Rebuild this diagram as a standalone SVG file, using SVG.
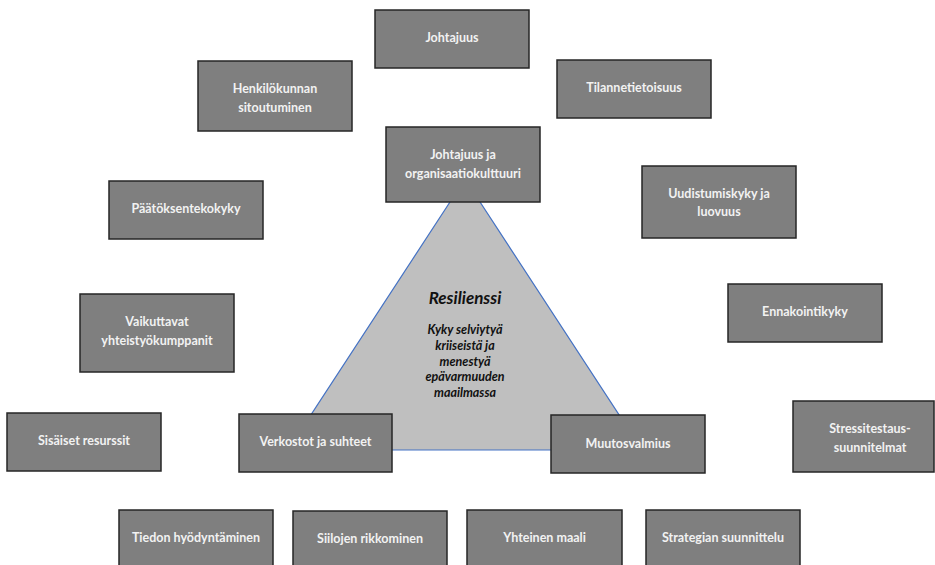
<svg xmlns="http://www.w3.org/2000/svg" width="935" height="565" viewBox="0 0 935 565">
  <style>
    .box rect { fill: #7f7f7f; stroke: #262626; stroke-width: 1.5; }
    .box text { fill: #f2f2f2; font-family: Lato, "Liberation Sans", sans-serif; font-weight: bold; font-size: 12.5px; text-anchor: middle; }
    .tri { fill: #bfbfbf; stroke: #4472c4; stroke-width: 1.2; }
    .title { fill: #111111; font-family: Lato, "Liberation Sans", sans-serif; font-style: italic; font-weight: bold; font-size: 17px; text-anchor: middle; }
    .sub { fill: #111111; font-family: Lato, "Liberation Sans", sans-serif; font-style: italic; font-weight: bold; font-size: 12.5px; text-anchor: middle; }
  </style>
  <rect width="935" height="565" fill="#ffffff"/>

  <!-- central resilience triangle -->
  <g id="resilienssi">
    <polygon class="tri" points="465,179 642,450 288,450"/>
    <text class="title" x="465" y="304">Resilienssi</text>
    <text class="sub" x="465" y="334">Kyky selviytyä</text>
    <text class="sub" x="465" y="350">kriiseistä ja</text>
    <text class="sub" x="465" y="365.5">menestyä</text>
    <text class="sub" x="465" y="381">epävarmuuden</text>
    <text class="sub" x="465" y="397">maailmassa</text>
  </g>

  <g id="johtajuus" class="box">
    <rect x="375" y="10" width="154" height="58"/>
    <text x="452" y="42">Johtajuus</text>
  </g>
  <g id="henkilokunnan-sitoutuminen" class="box">
    <rect x="198" y="61" width="154" height="70"/>
    <text x="275" y="93">Henkilökunnan</text>
    <text x="275" y="111.5">sitoutuminen</text>
  </g>
  <g id="tilannetietoisuus" class="box">
    <rect x="557" y="60" width="154" height="58"/>
    <text x="634" y="92">Tilannetietoisuus</text>
  </g>
  <g id="johtajuus-ja-organisaatiokulttuuri" class="box">
    <rect x="386" y="127" width="154" height="75"/>
    <text x="463" y="159">Johtajuus ja</text>
    <text x="463" y="178">organisaatiokulttuuri</text>
  </g>
  <g id="paatoksentekokyky" class="box">
    <rect x="109" y="181" width="154" height="58"/>
    <text x="186" y="213">Päätöksentekokyky</text>
  </g>
  <g id="uudistumiskyky" class="box">
    <rect x="642" y="166" width="154" height="72"/>
    <text x="719" y="197.5">Uudistumiskyky ja</text>
    <text x="719" y="216">luovuus</text>
  </g>
  <g id="vaikuttavat-yhteistyokumppanit" class="box">
    <rect x="80" y="294" width="154" height="78"/>
    <text x="157" y="326">Vaikuttavat</text>
    <text x="157" y="344.5">yhteistyökumppanit</text>
  </g>
  <g id="ennakointikyky" class="box">
    <rect x="728" y="284" width="154" height="58"/>
    <text x="805" y="316">Ennakointikyky</text>
  </g>
  <g id="sisaiset-resurssit" class="box">
    <rect x="7" y="413" width="154" height="58"/>
    <text x="84" y="445">Sisäiset resurssit</text>
  </g>
  <g id="verkostot-ja-suhteet" class="box">
    <rect x="239" y="414" width="153" height="58"/>
    <text x="315.5" y="446">Verkostot ja suhteet</text>
  </g>
  <g id="muutosvalmius" class="box">
    <rect x="551" y="415" width="154" height="58"/>
    <text x="628" y="448">Muutosvalmius</text>
  </g>
  <g id="stressitestaus-suunnitelmat" class="box">
    <rect x="793" y="401" width="141" height="71"/>
    <text x="870" y="433">Stressitestaus-</text>
    <text x="870" y="452">suunnitelmat</text>
  </g>
  <g id="tiedon-hyodyntaminen" class="box">
    <rect x="119" y="510" width="154" height="62"/>
    <text x="196" y="542">Tiedon hyödyntäminen</text>
  </g>
  <g id="siilojen-rikkominen" class="box">
    <rect x="293" y="511" width="154" height="62"/>
    <text x="370" y="543">Siilojen rikkominen</text>
  </g>
  <g id="yhteinen-maali" class="box">
    <rect x="467" y="510" width="155" height="62"/>
    <text x="544.5" y="542">Yhteinen maali</text>
  </g>
  <g id="strategian-suunnittelu" class="box">
    <rect x="646" y="510" width="154" height="62"/>
    <text x="723" y="542">Strategian suunnittelu</text>
  </g>
</svg>
